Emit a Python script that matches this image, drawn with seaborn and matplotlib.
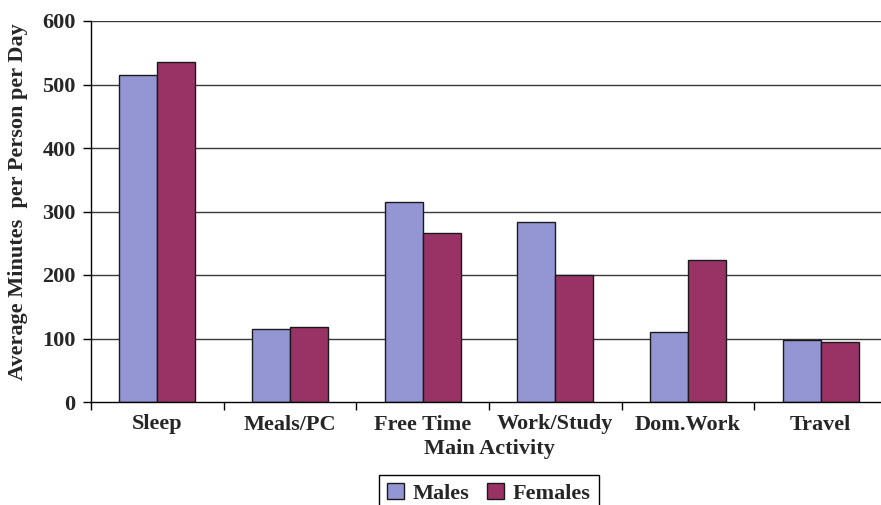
import matplotlib
matplotlib.use("Agg")
import matplotlib.pyplot as plt
from matplotlib.patches import Patch
from matplotlib.ticker import FixedLocator, NullFormatter
import seaborn as sns
import pandas as pd
import numpy as np

# Average minutes per person per day by main activity
activities = ["Sleep", "Meals/PC", "Free Time", "Work/Study", "Dom.Work", "Travel"]
males = [515, 115, 315, 283, 111, 97]
females = [536, 118, 266, 200, 224, 95]
series_names = ["Males", "Females"]
y_ticks = [0, 100, 200, 300, 400, 500, 600]

colors = {"Males": "#9496D4", "Females": "#993366"}

df = pd.DataFrame({
    "activity": activities * 2,
    "minutes": males + females,
    "sex": ["Males"] * len(activities) + ["Females"] * len(activities),
})

sns.set_theme(style="white")
plt.rcParams["font.family"] = ["Liberation Serif", "DejaVu Serif"]
plt.rcParams["font.weight"] = "bold"

fig = plt.figure(figsize=(8.81, 5.05), dpi=100)
W, H = 881, 505
ax = fig.add_axes([91 / W, 1 - 402 / H, (887 - 91) / W, (402 - 21) / H])

sns.barplot(data=df, x="activity", y="minutes", hue="sex", order=activities,
            hue_order=series_names, palette=colors, width=0.575, gap=0,
            edgecolor="#1a1a1a", linewidth=1.0, saturation=1, legend=False,
            ax=ax, zorder=3)

ax.set_xlim(-0.5, len(activities) - 0.5)
ax.set_ylim(0, 600)
ax.set_yticks(y_ticks)
ax.set_yticklabels([str(t) for t in y_ticks], fontsize=16, fontweight="bold")
for t in y_ticks[1:]:
    ax.axhline(t, color="#3a3a3a", linewidth=1.0, zorder=1)

# category labels centred, tick marks on category boundaries
ax.set_xticks(range(len(activities)))
ax.set_xticklabels(activities, fontsize=16, fontweight="bold")
ax.tick_params(axis="x", which="major", length=0, pad=9)
ax.xaxis.set_minor_locator(FixedLocator(np.arange(-0.5, len(activities), 1.0)))
ax.xaxis.set_minor_formatter(NullFormatter())
ax.tick_params(axis="x", which="minor", length=6, width=1, color="black",
               direction="out", bottom=True)
ax.tick_params(axis="y", length=6, width=1, color="black", direction="out",
               left=True, pad=5)

for side in ["top", "right"]:
    ax.spines[side].set_visible(False)
for side in ["left", "bottom"]:
    ax.spines[side].set_color("black")
    ax.spines[side].set_linewidth(1.0)
    ax.spines[side].set_zorder(4)

ax.set_xlabel("Main Activity", fontsize=16, fontweight="bold")
ax.xaxis.set_label_coords(0.5, (402 - 449) / (402 - 21))
ax.xaxis.label.set_va("center")
ax.set_ylabel("Average Minutes  per Person per Day", fontsize=16, fontweight="bold")
ax.yaxis.set_label_coords((18 - 91) / (887 - 91), (402 - 202) / (402 - 21))
ax.yaxis.label.set_va("center")

handles = [Patch(facecolor=colors[n], edgecolor="#1a1a1a", linewidth=1.0) for n in series_names]
leg = fig.legend(handles, series_names, loc="upper center",
                 bbox_to_anchor=(489 / W, 1 - 475 / H), ncol=2, frameon=True,
                 fancybox=False, edgecolor="black", framealpha=1,
                 prop={"size": 16, "weight": "bold"}, handlelength=0.75,
                 handleheight=0.75, handletextpad=0.4, columnspacing=0.8,
                 borderpad=0.35, borderaxespad=0)
leg.get_frame().set_linewidth(1.0)

fig.savefig("out.png", dpi=100)
